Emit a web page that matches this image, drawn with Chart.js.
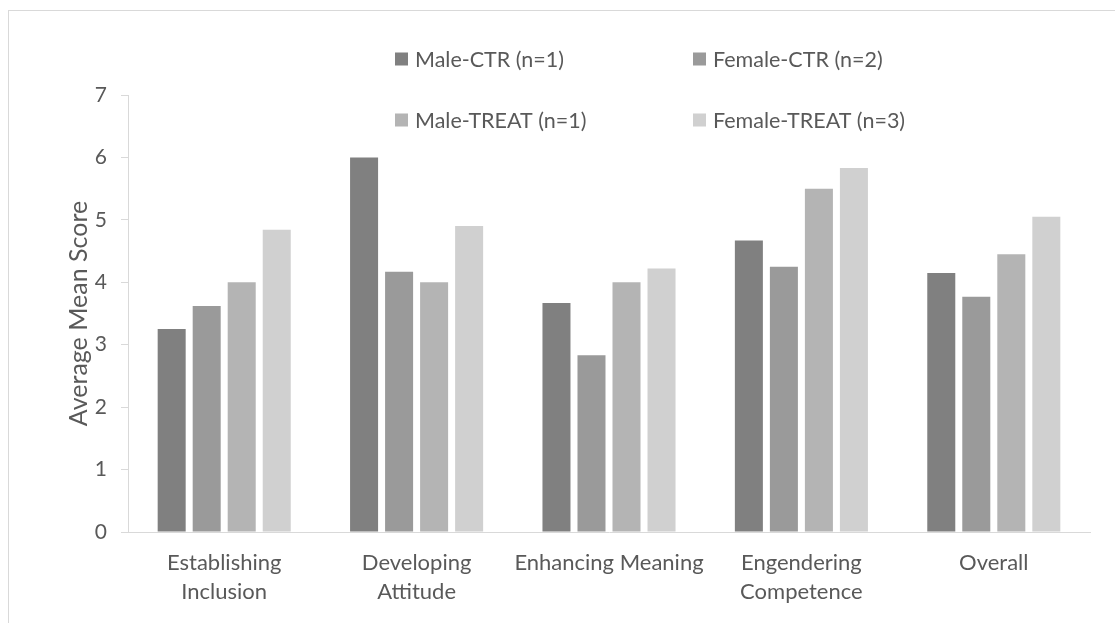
<!DOCTYPE html>
<html>
<head>
<meta charset="utf-8">
<script src="https://cdn.jsdelivr.net/npm/chart.js@4/dist/chart.umd.min.js"></script>
<style>
  html, body { margin: 0; padding: 0; background: #ffffff; overflow: hidden; }
  #frame {
    position: absolute; left: 8px; top: 10px; width: 1300px; height: 800px;
    border: 1px solid #d9d9d9; box-sizing: border-box;
  }
  #chart { position: absolute; left: 0; top: 0; }
</style>
</head>
<body>
<div id="frame"></div>
<canvas id="chart" width="1115" height="623"></canvas>
<script>
// Categories along the x axis (multi-line labels as arrays)
const categories = [
  ['Establishing', 'Inclusion'],
  ['Developing', 'Attitude'],
  'Enhancing Meaning',
  ['Engendering', 'Competence'],
  'Overall'
];

// Series names and mean scores per category
const seriesNames = ['Male-CTR (n=1)', 'Female-CTR (n=2)', 'Male-TREAT (n=1)', 'Female-TREAT (n=3)'];
const maleCtr     = [3.25, 6.00, 3.67, 4.67, 4.15];
const femaleCtr   = [3.62, 4.17, 2.83, 4.25, 3.77];
const maleTreat   = [4.00, 4.00, 4.00, 5.50, 4.45];
const femaleTreat = [4.84, 4.90, 4.22, 5.83, 5.05];

// Value axis range
const yMin = 0;
const yMax = 7;
const yStep = 1;

const seriesColors = ['#808080', '#9a9a9a', '#b4b4b4', '#d0d0d0'];
const textColor = '#595959';
const lineColor = '#d9d9d9';
const fontFamily = 'Lato, "Open Sans", sans-serif';

const seriesValues = [maleCtr, femaleCtr, maleTreat, femaleTreat];

// Two-column legend drawn above the plot
const gridLegend = {
  id: 'gridLegend',
  afterDraw(chart) {
    const ctx = chart.ctx;
    const colX = [395, 693];
    const rowY = [59, 120];
    const box = 13;
    ctx.save();
    ctx.font = '21.5px ' + fontFamily;
    ctx.textBaseline = 'middle';
    ctx.textAlign = 'left';
    chart.data.datasets.forEach((ds, i) => {
      const x = colX[i % 2];
      const y = rowY[Math.floor(i / 2)];
      ctx.fillStyle = ds.backgroundColor;
      ctx.fillRect(x, y - box / 2, box, box);
      ctx.fillStyle = textColor;
      ctx.fillText(ds.label, x + 20, y + 1);
    });
    ctx.restore();
  }
};

new Chart(document.getElementById('chart'), {
  type: 'bar',
  data: {
    labels: categories,
    datasets: seriesNames.map((name, i) => ({
      label: name,
      data: seriesValues[i],
      backgroundColor: seriesColors[i],
      borderWidth: 0,
      categoryPercentage: 0.728,
      barPercentage: 0.8
    }))
  },
  options: {
    responsive: false,
    animation: false,
    layout: { padding: { top: 95, right: 25, left: 0, bottom: 0 } },
    plugins: {
      legend: { display: false },
      tooltip: { enabled: false }
    },
    scales: {
      x: {
        grid: { display: true, drawOnChartArea: false, drawTicks: false, color: lineColor },
        border: { display: true, color: lineColor, width: 1 },
        ticks: {
          color: textColor,
          font: { family: fontFamily, size: 22, lineHeight: 1.32 },
          padding: 16,
          maxRotation: 0,
          autoSkip: false
        },
        afterFit(scale) { scale.height = 91; }
      },
      y: {
        min: yMin,
        max: yMax,
        grid: { drawOnChartArea: false, drawTicks: true, tickLength: 7, color: lineColor },
        border: { display: true, color: lineColor, width: 1 },
        ticks: {
          stepSize: yStep,
          color: textColor,
          font: { family: fontFamily, size: 21 },
          padding: 14
        },
        title: {
          display: true,
          text: 'Average Mean Score',
          color: textColor,
          font: { family: fontFamily, size: 25 },
          padding: { top: 64, bottom: 0 }
        },
        afterFit(scale) { scale.width = 128; }
      }
    }
  },
  plugins: [gridLegend]
});
</script>
</body>
</html>
